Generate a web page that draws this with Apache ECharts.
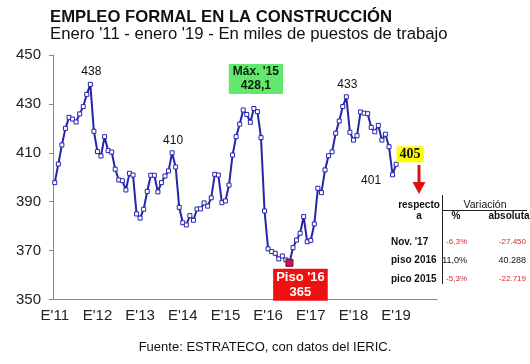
<!DOCTYPE html>
<html>
<head>
<meta charset="utf-8">
<script src="https://cdn.jsdelivr.net/npm/echarts@6/dist/echarts.min.js"></script>
<style>
html,body{margin:0;padding:0;background:#fff;}
#chart{width:530px;height:364px;}
</style>
</head>
<body>
<div id="chart"></div>
<script>
// ---- DATA ----
var years = ['11','12','13','14','15','16','17','18','19'];
var tickLabels = ["E'11","E'12","E'13","E'14","E'15","E'16","E'17","E'18","E'19"];
// Employment (thousands), Jan 2011 .. Jan 2019
var empleo = [
  397.8, 405.4, 413.2, 420.0, 424.5, 423.8, 422.6, 425.9, 428.9, 433.9, 438.0,
  418.8, 410.5, 408.7, 416.6, 410.9, 410.3, 403.3, 398.9, 398.6, 394.8, 401.6, 400.9,
  385.0, 383.3, 386.9, 394.2, 400.8, 400.8, 394.0, 397.8, 400.5, 402.6, 410.0, 404.2,
  387.7, 381.4, 380.5, 384.3, 382.4, 387.0, 387.1, 389.5, 388.2, 391.6, 401.2, 400.9,
  389.6, 390.3, 396.8, 409.1, 416.6, 421.7, 427.5, 425.7, 422.5, 428.1, 426.8, 416.2,
  386.2, 370.7, 369.6, 368.9, 366.6, 367.8, 366.2, 365.0, 371.2, 374.3, 377.1, 383.9,
  373.6, 374.2, 380.9, 395.5, 393.7, 403.0, 408.8, 410.4, 418.0, 423.0, 428.9, 432.9,
  418.4, 415.2, 417.0, 426.7, 426.2, 426.0, 420.4, 418.6, 421.2, 415.2, 417.6, 412.5,
  401.0, 405.3
];
// annotated points: index into empleo, label text, style key
var annotIndex = [10, 33, 56, 66, 82, 95, 96];
var annotText  = ['438', '410', "Máx. '15\n428,1", "Piso '16\n365", '433', '401', '405'];
var annotKind  = ['plain', 'plain', 'max', 'min', 'plain', 'left', 'last'];
// comparison table
var tableRows = ["Nov. '17", 'piso 2016', 'pico 2015'];
var tablePct  = ['-6,3%', '11,0%', '-5,3%'];
var tableAbs  = ['-27.450', '40.288', '-22.719'];
var tableNeg  = [true, false, true];

// ---- BUILD ----
var categories = [];
for (var y = 0; y < years.length; y++) {
  for (var m = 1; m <= 12; m++) categories.push('20' + years[y] + '-' + (m < 10 ? '0' + m : m));
}
var FONT = "'Liberation Sans', Arial, sans-serif";
var BLUE = '#2424ad';

function labelFor(kind, text) {
  var base = {show: true, formatter: text, fontFamily: FONT, fontSize: 12, color: '#111'};
  if (kind === 'plain') { base.position = 'top'; base.offset = [1, 1]; }
  if (kind === 'left') { base.position = 'left'; base.offset = [-4, 6]; }
  if (kind === 'max') {
    base.position = 'top'; base.offset = [2, -7];
    base.backgroundColor = '#62e96c'; base.padding = [1, 4];
    base.fontWeight = 'bold'; base.lineHeight = 14; base.color = '#0d1f0d';
  }
  if (kind === 'min') {
    base.position = 'bottom'; base.offset = [11, -3];
    base.backgroundColor = '#ee1111'; base.padding = [1, 3];
    base.fontWeight = 'bold'; base.fontSize = 13; base.lineHeight = 15; base.color = '#fff';
  }
  if (kind === 'last') {
    base.position = 'right'; base.offset = [-7, -10];
    base.backgroundColor = '#ffff00'; base.padding = [1, 3];
    base.fontFamily = "'Liberation Serif', 'Times New Roman', serif";
    base.fontWeight = 'bold'; base.fontSize = 14; base.lineHeight = 14; base.color = '#111';
  }
  return base;
}

var seriesData = empleo.map(function (v, i) {
  var k = annotIndex.indexOf(i);
  if (k < 0) return v;
  var item = {value: v, label: labelFor(annotKind[k], annotText[k])};
  if (annotKind[k] === 'min') {
    item.symbolSize = 7;
    item.itemStyle = {color: '#c8125a', borderColor: '#7a0a2a', borderWidth: 1};
  }
  return item;
});

// table graphics
var graphics = [];
function txt(x, y, s, opt) {
  opt = opt || {};
  graphics.push({type: 'text', x: x, y: y, style: {
    text: s, fill: opt.fill || '#111', font: (opt.bold ? 'bold ' : '') + (opt.size || 10) + 'px ' + FONT,
    textAlign: opt.align || 'center', textVerticalAlign: 'middle'}});
}
txt(419, 205, 'respecto', {bold: true});
txt(419, 216, 'a', {bold: true});
txt(485, 205, 'Variación', {size: 10.5});
txt(456, 216, '%', {bold: true});
txt(509, 216, 'absoluta', {bold: true});
graphics.push({type: 'line', shape: {x1: 443, y1: 210.5, x2: 527, y2: 210.5}, style: {stroke: '#222', lineWidth: 1}});
graphics.push({type: 'line', shape: {x1: 442.5, y1: 195, x2: 442.5, y2: 284}, style: {stroke: '#222', lineWidth: 1}});
var rowY = [242, 260.5, 279];
for (var r = 0; r < tableRows.length; r++) {
  txt(391, rowY[r], tableRows[r], {bold: true, align: 'left', size: 10});
  var col = tableNeg[r] ? '#d42a2a' : '#111';
  var sz = tableNeg[r] ? 8 : 9;
  txt(467, rowY[r], tablePct[r], {align: 'right', fill: col, size: sz});
  txt(526, rowY[r], tableAbs[r], {align: 'right', fill: col, size: sz});
}
// red arrow
graphics.push({type: 'rect', shape: {x: 417.5, y: 165, width: 3, height: 18}, style: {fill: '#dd1111'}});
graphics.push({type: 'polygon', shape: {points: [[412.5, 182], [425.5, 182], [419, 194]]}, style: {fill: '#dd1111'}});
// footer
txt(265, 347, 'Fuente: ESTRATECO, con datos del IERIC.', {size: 13});

var chart = echarts.init(document.getElementById('chart'), null, {renderer: 'canvas'});
chart.setOption({
  animation: false,
  backgroundColor: '#fff',
  title: {
    text: 'EMPLEO FORMAL EN LA CONSTRUCCIÓN',
    subtext: "Enero '11 - enero '19 - En miles de puestos de trabajo",
    left: 50, top: 8.5, itemGap: 0, padding: 0,
    textStyle: {fontFamily: FONT, fontSize: 16.7, lineHeight: 17, fontWeight: 'bold', color: '#111'},
    subtextStyle: {fontFamily: FONT, fontSize: 16.7, lineHeight: 17, color: '#111'}
  },
  grid: {left: 53, right: 93, top: 55, bottom: 64.5, containLabel: false},
  xAxis: {
    type: 'category', data: categories, boundaryGap: true,
    axisLine: {lineStyle: {color: '#8a8a8a', width: 1}},
    axisTick: {interval: 0, length: 4, lineStyle: {color: '#555'}},
    axisLabel: {
      interval: function (i) { return i % 12 === 0; },
      formatter: function (v, i) { return i % 12 === 0 ? tickLabels[i / 12] : ''; },
      fontFamily: FONT, fontSize: 15, color: '#222', margin: 9
    },
    splitLine: {show: false}
  },
  yAxis: {
    type: 'value', min: 350, max: 450, interval: 20,
    axisLine: {show: true, lineStyle: {color: '#8a8a8a', width: 1}},
    axisTick: {show: true, length: 4, lineStyle: {color: '#8a8a8a'}},
    axisLabel: {fontFamily: FONT, fontSize: 15, color: '#222', margin: 12},
    splitLine: {show: false}
  },
  series: [{
    type: 'line', data: seriesData,
    symbol: 'rect', symbolSize: 4, showAllSymbol: true,
    lineStyle: {color: BLUE, width: 2},
    itemStyle: {color: '#fff', borderColor: BLUE, borderWidth: 1},
    label: {show: false},
    emphasis: {disabled: true},
    z: 3
  }],
  graphic: graphics
});
</script>
</body>
</html>
